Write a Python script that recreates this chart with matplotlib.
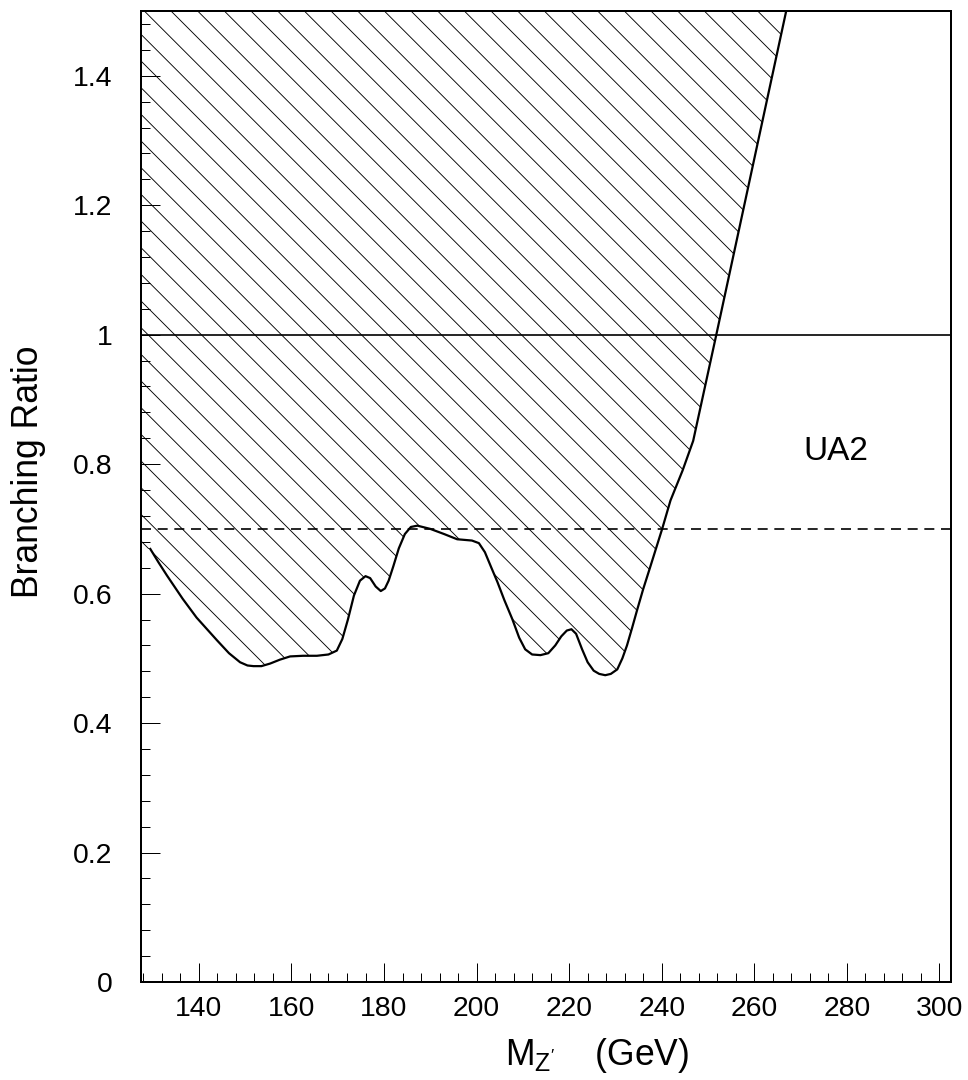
import numpy as np
import matplotlib
matplotlib.use('Agg')
import matplotlib.pyplot as plt
from matplotlib.ticker import MultipleLocator, FuncFormatter

plt.rcParams['font.family'] = ['Liberation Sans', 'DejaVu Sans']
plt.rcParams['mathtext.fontset'] = 'custom'
plt.rcParams['mathtext.rm'] = 'Liberation Sans'
plt.rcParams['mathtext.it'] = 'Liberation Sans:italic'
plt.rcParams['hatch.linewidth'] = 0.8

# excluded region boundary (UA2)
mass = [129.5, 131.3, 133.1, 136.5, 139.5, 143.9, 146.5, 148.9, 150.5, 151.8,
        153.5, 155.4, 157.5, 159.7, 162.5, 165.5, 168.0, 169.8, 171.0, 172.2,
        173.5, 174.8, 176.0, 177.0, 178.2, 179.3, 180.2, 181.0, 182.0, 183.2,
        184.5, 185.8, 187.2, 190.0, 193.0, 195.8, 199.0, 200.5, 201.8, 203.2,
        204.5, 206.0, 207.7, 209.2, 210.5, 212.0, 213.8, 215.5, 217.0, 218.3,
        219.5, 220.5, 221.5, 222.8, 224.0, 225.3, 226.5, 227.8, 229.0, 230.4,
        231.5, 232.5, 233.6, 234.7, 236.0, 237.6, 240.1, 241.9, 244.5, 246.8,
        251.8, 266.9]
br_limit = [0.669, 0.648, 0.628, 0.592, 0.563, 0.528, 0.508, 0.494, 0.489, 0.488,
            0.488, 0.492, 0.498, 0.503, 0.504, 0.504, 0.506, 0.512, 0.530, 0.560,
            0.597, 0.620, 0.627, 0.624, 0.611, 0.604, 0.608, 0.620, 0.642, 0.670,
            0.692, 0.703, 0.705, 0.700, 0.692, 0.684, 0.682, 0.678, 0.664, 0.640,
            0.618, 0.590, 0.561, 0.532, 0.514, 0.506, 0.505, 0.508, 0.520, 0.534,
            0.543, 0.545, 0.538, 0.514, 0.494, 0.481, 0.476, 0.474, 0.476, 0.483,
            0.500, 0.520, 0.547, 0.575, 0.607, 0.643, 0.700, 0.744, 0.790, 0.836,
            1.0, 1.5]

x_min, x_max = 127.5, 302.5
y_min, y_max = 0.0, 1.5
br_unity = 1.0
br_dashed = 0.7

fig = plt.figure(figsize=(12.1, 13.5), dpi=80)
ax = fig.add_axes([0.1457, 0.0907, 0.8367, 0.8991])

fx = [x_min] + mass
fy = [br_limit[0]] + br_limit
ax.fill_between(fx, fy, y_max, facecolor='none', edgecolor='black',
                hatch='\\', linewidth=0)
ax.plot(mass, br_limit, color='black', lw=2.0, solid_joinstyle='round')
ax.axhline(br_unity, color='black', lw=1.5)
ax.axhline(br_dashed, color='black', lw=1.5, linestyle=(0, (6, 4)))

ax.text(277.7, 0.82, 'UA2', fontsize=30, ha='center', va='center')

ax.set_xlim(x_min, x_max)
ax.set_ylim(y_min, y_max)
ax.xaxis.set_major_locator(MultipleLocator(20))
ax.xaxis.set_minor_locator(MultipleLocator(4))
ax.yaxis.set_major_locator(MultipleLocator(0.2))
ax.yaxis.set_minor_locator(MultipleLocator(0.04))
ax.yaxis.set_major_formatter(FuncFormatter(lambda v, p: '%g' % round(v, 2)))
ax.xaxis.set_major_formatter(FuncFormatter(lambda v, p: '%g' % v))

ax.tick_params(which='both', direction='in', top=False, right=False,
               width=0.9, labelsize=25.5)
ax.tick_params(which='major', length=17)
ax.tick_params(which='minor', length=8)
ax.tick_params(axis='y', which='both', pad=26)
ax.tick_params(axis='x', which='both', pad=13)
for s in ax.spines.values():
    s.set_linewidth(1.8)

fig.text(0.029, 0.563, 'Branching Ratio', rotation=90, fontsize=32,
         ha='center', va='center')
fig.text(0.522, 0.0139, r'M$_{\mathregular{Z}^{\prime}}$    (GeV)', fontsize=32,
         ha='left', va='baseline')

fig.savefig('out.png', dpi=80)
